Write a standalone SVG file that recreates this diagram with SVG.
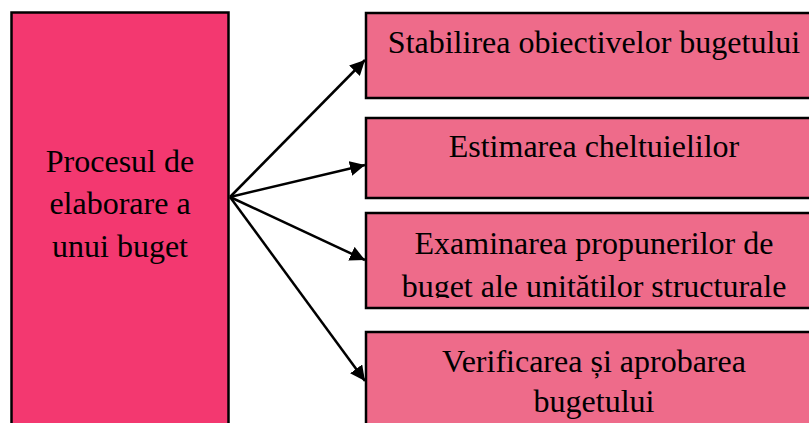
<svg xmlns="http://www.w3.org/2000/svg" width="809" height="423" viewBox="0 0 809 423">
<style>
.box{stroke:#000;stroke-width:2.5}
.main{fill:#F33870}
.step{fill:#EE6B8A}
text{font-family:"Liberation Serif","Times New Roman",serif;font-size:32px;fill:#000;text-anchor:middle}
.conn line{stroke:#000;stroke-width:2.5;marker-end:url(#ah)}
</style>
<defs>
<marker id="ah" viewBox="0 0 10 10" refX="10" refY="5" markerWidth="6" markerHeight="6" markerUnits="strokeWidth" orient="auto">
<path d="M0,0 L10,5 L0,10 z" fill="#000"/>
</marker>
<clipPath id="c3"><rect x="366" y="213" width="460" height="85"/></clipPath>
</defs>
<rect width="809" height="423" fill="#fff"/>
<g id="n-main">
<rect class="box main" x="11.5" y="12.5" width="217" height="430"/>
<text x="120" y="172">Procesul de</text>
<text x="120" y="214">elaborare a</text>
<text x="120" y="257">unui buget</text>
</g>
<g id="n-1">
<rect class="box step" x="366" y="13" width="460" height="85"/>
<text x="594" y="53">Stabilirea obiectivelor bugetului</text>
</g>
<g id="n-2">
<rect class="box step" x="366" y="118" width="460" height="80"/>
<text x="594" y="157">Estimarea cheltuielilor</text>
</g>
<g id="n-3">
<rect class="box step" x="366" y="213" width="460" height="95"/>
<g clip-path="url(#c3)">
<text x="594" y="254">Examinarea propunerilor de</text>
<text x="594" y="296.5">buget ale unitătilor structurale</text>
</g>
</g>
<g id="n-4">
<rect class="box step" x="366" y="332" width="460" height="120"/>
<text x="594" y="372">Verificarea și aprobarea</text>
<text x="594" y="412">bugetului</text>
</g>
<g id="connectors" class="conn">
<line x1="230" y1="197" x2="365" y2="60"/>
<line x1="230" y1="197" x2="365" y2="165"/>
<line x1="230" y1="197" x2="365" y2="260"/>
<line x1="230" y1="197" x2="365" y2="381"/>
</g>
</svg>
